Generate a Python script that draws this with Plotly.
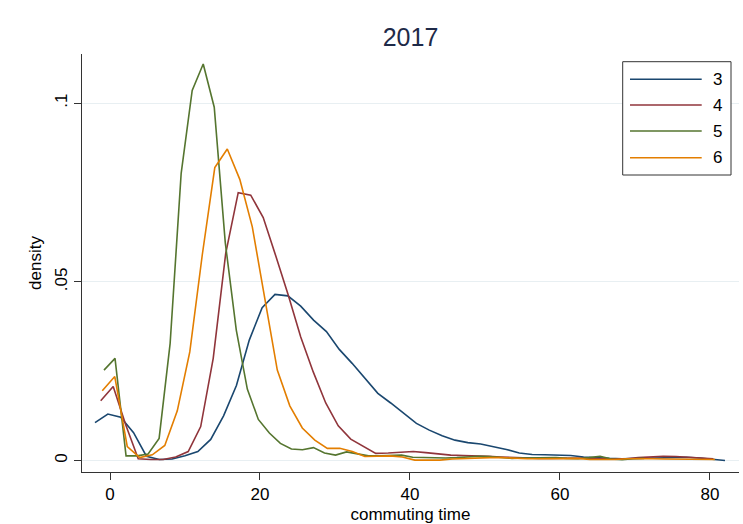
import numpy as np
import plotly.graph_objects as go

# ---- data (kernel density estimates of commuting time, 2017) ----
series_names = ["3", "4", "5", "6"]
series_colors = ["#1a476f", "#90353b", "#55752f", "#e37e00"]

# evaluation grids (50 equally spaced points per group, start and step)
grid_start = [-2.0, -1.24, -0.8, -1.03]
grid_step = [1.7143, 1.667, 1.47, 1.667]

dens_3 = [0.0106, 0.0130, 0.0121, 0.0078, 0.0012, 0.0003, 0.0004, 0.0013, 0.0025, 0.0059,
          0.0125, 0.0210, 0.0337, 0.0428, 0.0465, 0.0461, 0.0432, 0.0393, 0.0361, 0.0311,
          0.0272, 0.0230, 0.0188, 0.0161, 0.0133, 0.0104, 0.0085, 0.0069, 0.0057, 0.0050,
          0.0046, 0.0039, 0.0031, 0.0021, 0.0017, 0.0016, 0.0015, 0.0014, 0.0010, 0.0007,
          0.0006, 0.0005, 0.0006, 0.0007, 0.0008, 0.0008, 0.0009, 0.0007, 0.0003, 0.0000]
dens_4 = [0.0167, 0.0207, 0.0100, 0.0005, 0.0003, 0.0003, 0.0010, 0.0025, 0.0095, 0.0286,
          0.0580, 0.0750, 0.0743, 0.0680, 0.0573, 0.0463, 0.0346, 0.0248, 0.0161, 0.0097,
          0.0060, 0.0039, 0.0020, 0.0021, 0.0022, 0.0025, 0.0022, 0.0018, 0.0015, 0.0014,
          0.0014, 0.0012, 0.0010, 0.0008, 0.0007, 0.0006, 0.0006, 0.0007, 0.0008, 0.0007,
          0.0005, 0.0004, 0.0005, 0.0008, 0.0011, 0.0012, 0.0011, 0.0009, 0.0007, 0.0005]
dens_5 = [0.0253, 0.0286, 0.0013, 0.0013, 0.0018, 0.0062, 0.0328, 0.0804, 0.1036, 0.1110,
          0.0989, 0.0610, 0.0365, 0.0200, 0.0115, 0.0077, 0.0048, 0.0032, 0.0030, 0.0036,
          0.0021, 0.0015, 0.0024, 0.0018, 0.0013, 0.0013, 0.0014, 0.0015, 0.0009, 0.0008,
          0.0008, 0.0007, 0.0008, 0.0010, 0.0012, 0.0011, 0.0008, 0.0006, 0.0007, 0.0008,
          0.0009, 0.0008, 0.0006, 0.0005, 0.0008, 0.0012, 0.0004, 0.0002, 0.0005, 0.0006]
dens_6 = [0.0195, 0.0235, 0.0039, 0.0008, 0.0016, 0.0042, 0.0139, 0.0304, 0.0576, 0.0820,
          0.0872, 0.0787, 0.0654, 0.0448, 0.0253, 0.0153, 0.0091, 0.0057, 0.0034, 0.0034,
          0.0025, 0.0011, 0.0011, 0.0013, 0.0010, 0.0001, 0.0001, 0.0001, 0.0004, 0.0006,
          0.0007, 0.0008, 0.0008, 0.0006, 0.0005, 0.0005, 0.0006, 0.0007, 0.0006, 0.0003,
          0.0002, 0.0003, 0.0005, 0.0006, 0.0005, 0.0004, 0.0004, 0.0005, 0.0004, 0.0003]
densities = [dens_3, dens_4, dens_5, dens_6]

x_ticks = [0, 20, 40, 60, 80]
y_ticks = [0, 0.05, 0.1]
y_tick_labels = ["0", ".05", ".1"]

FONT = "Liberation Sans, Arial, sans-serif"

fig = go.Figure()
for name, col, s0, ds, d in zip(series_names, series_colors, grid_start, grid_step, densities):
    xs = s0 + ds * np.arange(len(d))
    fig.add_trace(go.Scatter(x=xs, y=d, mode="lines", name=name,
                             line=dict(color=col, width=1.6), showlegend=False))

# ---- layout ----
L, R, T, B = 82, 4, 54, 52
W, H = 743, 524
pw, ph = W - L - R, H - T - B

def px_x(p):
    return (p - L) / pw

def px_y(p):
    return (H - B - p) / ph

fig.update_layout(
    width=W, height=H,
    margin=dict(l=L, r=R, t=T, b=B),
    paper_bgcolor="white", plot_bgcolor="white",
    font=dict(family=FONT, size=17, color="#000000"),
    title=dict(text="2017", x=0.5525, xanchor="center", y=1 - 37 / H, yanchor="middle",
               font=dict(family=FONT, size=25, color="#1e2a48")),
    xaxis=dict(range=[-3.733, 83.87], tickvals=x_ticks, ticks="outside", ticklen=7,
               tickcolor="#333333", showline=True, linecolor="#333333", linewidth=1,
               showgrid=False, zeroline=False,
               title=dict(text="commuting time", standoff=4, font=dict(size=17)),
               tickfont=dict(size=17)),
    yaxis=dict(range=[-0.00322, 0.1138], tickvals=y_ticks, ticktext=y_tick_labels,
               ticks="outside", ticklen=7, tickcolor="#333333", tickangle=-90,
               showline=True, linecolor="#333333", linewidth=1,
               showgrid=True, gridcolor="#e8eff2", gridwidth=1, zeroline=False,
               title=dict(text="density", standoff=6, font=dict(size=17)),
               tickfont=dict(size=17)),
)

# ---- legend box (drawn like Stata's) ----
box = dict(x0=622.7, x1=731, y0=61.7, y1=175)
fig.add_shape(type="rect", xref="paper", yref="paper",
              x0=px_x(box["x0"]), x1=px_x(box["x1"]),
              y0=px_y(box["y1"]), y1=px_y(box["y0"]),
              line=dict(color="#333333", width=1), fillcolor="white", layer="above")
row_y = [79.3, 105.0, 131.0, 157.7]
for name, col, ry in zip(series_names, series_colors, row_y):
    fig.add_shape(type="line", xref="paper", yref="paper",
                  x0=px_x(630), x1=px_x(701.7), y0=px_y(ry), y1=px_y(ry),
                  line=dict(color=col, width=1.6), layer="above")
    fig.add_annotation(text=name, xref="paper", yref="paper", x=px_x(711), y=px_y(ry),
                       xanchor="left", yanchor="middle", showarrow=False,
                       font=dict(family=FONT, size=17, color="#000000"))

fig.write_html("out.html")
